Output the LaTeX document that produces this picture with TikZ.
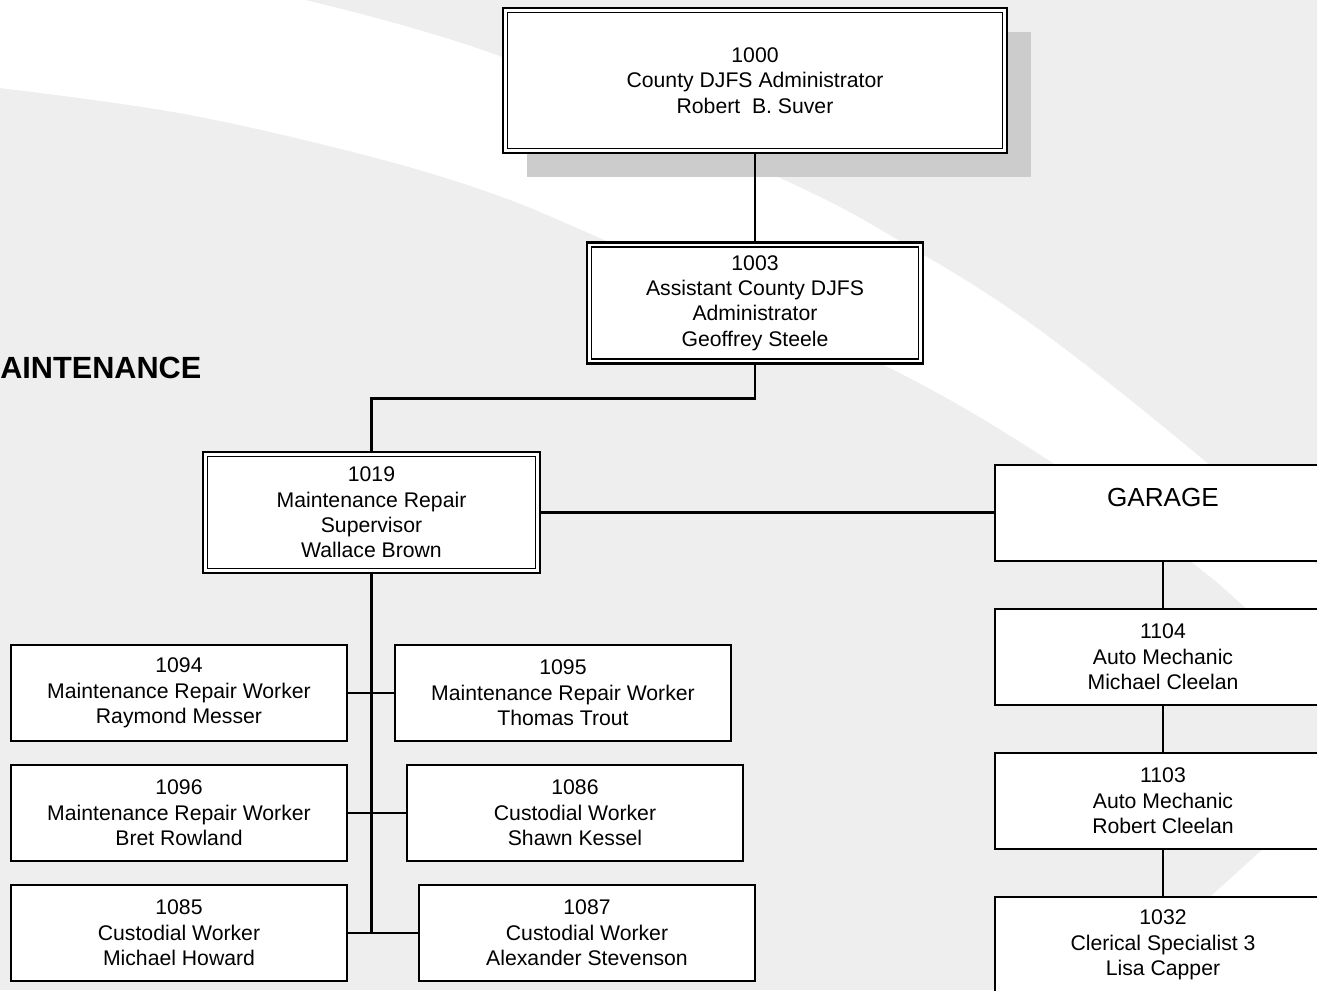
\documentclass[tikz,border=0pt]{standalone}
\usepackage{fontspec}
\setmainfont{Liberation Sans}
\usetikzlibrary{shadows,calc}
\definecolor{bggray}{HTML}{EEEEEE}
\definecolor{shadowgray}{HTML}{CCCCCC}
\newcommand{\boxfont}{\fontsize{15.9pt}{19pt}\selectfont}
\newcommand{\garagefont}{\fontsize{19.6pt}{23pt}\selectfont}
\newcommand{\titlefont}{\fontsize{23pt}{27pt}\selectfont\bfseries}
\tikzset{
  box/.style={draw, fill=white, line width=1.4pt, inner sep=0pt, outer sep=0pt,
    align=center, minimum width=252pt, minimum height=72pt, font=\boxfont},
  dbox/.style={box, line width=1.9pt},
  innerline/.style={line width=1.0pt},
  conn/.style={line width=1.6pt},
  topshadow/.style={drop shadow={shadow xshift=18pt, shadow yshift=-18pt, fill=shadowgray, opacity=1}}
}
\begin{document}
\begin{tikzpicture}[x=0.75pt,y=-0.75pt]
\useasboundingbox (0,0) rectangle (1317,990);
\clip (0,0) rectangle (1317,990);
% background
\fill[bggray] (0,0) rectangle (1317,990);
\fill[white] (0,0) -- plot[smooth, tension=0.6] coordinates {(305,0) (502,57) (780,178) (898,240) (1034,326) (1207,463) (1317,565)}
  -- plot[smooth, tension=0.6] coordinates {(1317,672) (1247,609) (1190,561) (1053,463) (884,365) (609,242) (491,193) (357,153) (179,113) (0,88)} -- cycle;
\fill[white] (1317,800) -- (1263,849) -- (1210,897) -- (1100,990) -- (1317,990) -- cycle;

% title
\node[anchor=base west, inner sep=0pt, font=\titlefont] (title) at (0,378) {AINTENANCE};

% top boxes
\node[dbox, topshadow, minimum width=378pt, minimum height=108.75pt] (n1000) at (755,80.5)
  {1000\\County DJFS Administrator\\Robert~~B. Suver};
\node[dbox, minimum height=90.75pt] (n1003) at (755,303)
  {1003\\Assistant County DJFS\\Administrator\\Geoffrey Steele};
\node[dbox, minimum width=252.75pt, minimum height=90.75pt] (n1019) at (371.5,512.5)
  {1019\\Maintenance Repair\\Supervisor\\Wallace Brown};
\foreach \n in {n1000,n1003,n1019}
  \draw[innerline] ([xshift=3.4pt,yshift=-3.4pt]\n.north west) rectangle ([xshift=-3.4pt,yshift=3.4pt]\n.south east);

% garage column
\node[box, font=\garagefont] (garage) at (1163,513) {GARAGE\\\mbox{}};
\node[box] (n1104) at (1163,657) {1104\\Auto Mechanic\\Michael Cleelan};
\node[box] (n1103) at (1163,801) {1103\\Auto Mechanic\\Robert Cleelan};
\node[box] (n1032) at (1163,945) {1032\\Clerical Specialist 3\\Lisa Capper};

% maintenance workers
\node[box] (n1094) at (179,693) {1094\\Maintenance Repair Worker\\Raymond Messer};
\node[box] (n1096) at (179,813) {1096\\Maintenance Repair Worker\\Bret Rowland};
\node[box] (n1085) at (179,933) {1085\\Custodial Worker\\Michael Howard};
\node[box] (n1095) at (563,693) {1095\\Maintenance Repair Worker\\Thomas Trout};
\node[box] (n1086) at (575,813) {1086\\Custodial Worker\\Shawn Kessel};
\node[box] (n1087) at (587,933) {1087\\Custodial Worker\\Alexander Stevenson};

% connectors
\draw[conn] (n1000.south) -- (n1003.north);
\draw[conn] (n1003.south) -- ++(0,35) -| (n1019.north);
\draw[conn] (n1019.east) -- (n1019.east -| garage.west);
\draw[conn] (n1019.south) -- (n1019.south |- n1085.east);
\draw[conn] (n1094.east) -- (n1095.west);
\draw[conn] (n1096.east) -- (n1086.west);
\draw[conn] (n1085.east) -- (n1087.west);
\draw[conn] (garage.south) -- (n1104.north);
\draw[conn] (n1104.south) -- (n1103.north);
\draw[conn] (n1103.south) -- (n1032.north);
\end{tikzpicture}
\end{document}
